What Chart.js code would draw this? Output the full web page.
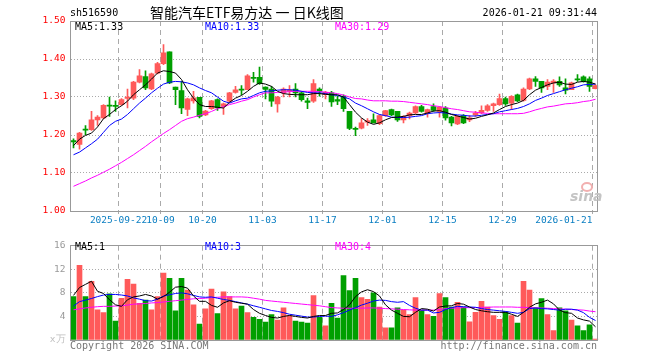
<!DOCTYPE html>
<html>
<head>
<meta charset="utf-8">
<script src="https://cdn.jsdelivr.net/npm/chart.js@4.4.1/dist/chart.umd.min.js"></script>
<style>
  body { margin: 0; background: #fff; }
  #wrap { position: relative; width: 660px; height: 360px; font-family: "DejaVu Sans Mono", monospace; font-size: 10px; }
  #wrap canvas { position: absolute; left: 0; }
  .t { position: absolute; white-space: pre; line-height: 12px; }
</style>
</head>
<body>
<div id="wrap">
  <canvas id="kline" width="660" height="235" style="top:0"></canvas>
  <canvas id="vol" width="660" height="125" style="top:235px"></canvas>

  <div class="t" style="left:70px;top:7px;color:#000">sh516590</div>
  <div class="t" style="left:150px;top:4px;font-family:'Noto Sans CJK SC',sans-serif;font-size:14px;line-height:16px;color:#000">智能汽车ETF易方达 一 日K线图</div>
  <div class="t" style="right:63px;top:7px;color:#000">2026-01-21 09:31:44</div>

  <div class="t" style="left:75px;top:21px;color:#000">MA5:1.33</div>
  <div class="t" style="left:205px;top:21px;color:#0000ff">MA10:1.33</div>
  <div class="t" style="left:335px;top:21px;color:#ff00ff">MA30:1.29</div>

  <div class="t" style="left:75px;top:241px;color:#000">MA5:1</div>
  <div class="t" style="left:205px;top:241px;color:#0000ff">MA10:3</div>
  <div class="t" style="left:335px;top:241px;color:#ff00ff">MA30:4</div>

  <div class="t" style="left:70px;top:340px;color:#777">Copyright 2026 SINA.COM</div>
  <div class="t" style="right:63px;top:340px;color:#777">http://finance.sina.com.cn</div>

  <div style="position:absolute;left:581px;top:182px;width:8px;height:6px;border:2px solid #f2b0b0;border-radius:50%"></div>
  <div class="t" style="left:570px;top:189px;font-family:'DejaVu Sans',sans-serif;font-weight:bold;font-style:italic;font-size:14px;line-height:14px;color:#c4c4c4">sina</div>
</div>

<script>
// ---- data ----
const dates = [
  '09-10','09-11','09-12','09-15','09-16','09-17','09-18','09-19','09-22','09-23','09-24','09-25','09-26','09-29','09-30',
  '10-09','10-10','10-13','10-14','10-15','10-16','10-17','10-20','10-21','10-22','10-23','10-24','10-27','10-28','10-29','10-30','10-31',
  '11-03','11-04','11-05','11-06','11-07','11-10','11-11','11-12','11-13','11-14','11-17','11-18','11-19','11-20','11-21','11-24','11-25','11-26','11-27','11-28',
  '12-01','12-02','12-03','12-04','12-05','12-08','12-09','12-10','12-11','12-12','12-15','12-16','12-17','12-18','12-19','12-22','12-23','12-24','12-25','12-26','12-29','12-30','12-31',
  '01-05','01-06','01-07','01-08','01-09','01-12','01-13','01-14','01-15','01-16','01-19','01-20','01-21'
];

// tick labels shown under the price panel
const tickIndex = [8, 15, 22, 32, 42, 52, 62, 72, 87];
const tickText  = ['2025-09-22', '10-09', '10-20', '11-03', '11-17', '12-01', '12-15', '12-29', '2026-01-21          '];

const opens = [
  1.185,1.175,1.215,1.214,1.240,1.245,1.279,1.278,1.280,1.296,
  1.297,1.339,1.354,1.321,1.363,1.388,1.419,1.326,1.317,1.267,
  1.290,1.299,1.253,1.269,1.293,1.275,1.289,1.312,1.320,1.319,
  1.351,1.352,1.326,1.321,1.282,1.311,1.315,1.321,1.311,1.290,
  1.289,1.321,1.306,1.311,1.293,1.302,1.262,1.217,1.218,1.234,
  1.240,1.230,1.251,1.267,1.262,1.240,1.251,1.258,1.275,1.258,
  1.275,1.262,1.271,1.247,1.229,1.251,1.240,1.253,1.258,1.265,
  1.277,1.280,1.296,1.284,1.306,1.291,1.321,1.348,1.341,1.328,
  1.337,1.341,1.324,1.319,1.348,1.353,1.348,1.322
];
const highs = [
  1.190,1.207,1.225,1.262,1.251,1.280,1.300,1.290,1.296,1.321,
  1.341,1.372,1.369,1.363,1.391,1.438,1.419,1.326,1.341,1.297,
  1.315,1.299,1.265,1.291,1.295,1.284,1.312,1.328,1.330,1.359,
  1.365,1.379,1.327,1.328,1.302,1.324,1.330,1.335,1.315,1.297,
  1.346,1.324,1.315,1.315,1.302,1.306,1.262,1.221,1.243,1.243,
  1.256,1.254,1.265,1.268,1.262,1.251,1.260,1.277,1.278,1.268,
  1.282,1.275,1.275,1.249,1.251,1.254,1.251,1.262,1.277,1.280,
  1.284,1.308,1.300,1.304,1.308,1.324,1.350,1.354,1.341,1.346,
  1.346,1.353,1.348,1.339,1.359,1.356,1.353,1.332
];
const lows = [
  1.166,1.163,1.201,1.212,1.225,1.243,1.249,1.262,1.278,1.271,
  1.293,1.337,1.319,1.319,1.361,1.385,1.335,1.280,1.256,1.251,
  1.284,1.245,1.251,1.267,1.265,1.254,1.287,1.310,1.306,1.319,
  1.339,1.333,1.295,1.275,1.260,1.300,1.300,1.300,1.289,1.269,
  1.286,1.302,1.295,1.275,1.280,1.262,1.214,1.198,1.216,1.225,
  1.232,1.227,1.249,1.251,1.236,1.232,1.242,1.256,1.260,1.247,
  1.262,1.247,1.239,1.224,1.227,1.230,1.235,1.249,1.256,1.262,
  1.262,1.278,1.278,1.267,1.288,1.289,1.319,1.328,1.312,1.319,
  1.312,1.328,1.308,1.319,1.341,1.339,1.315,1.321
];
const closes = [
  1.182,1.205,1.213,1.240,1.247,1.278,1.276,1.275,1.293,1.300,
  1.339,1.356,1.324,1.361,1.388,1.416,1.337,1.319,1.271,1.295,
  1.298,1.249,1.263,1.290,1.271,1.282,1.311,1.319,1.318,1.356,
  1.349,1.335,1.320,1.289,1.300,1.321,1.319,1.311,1.293,1.286,
  1.335,1.315,1.312,1.287,1.289,1.269,1.217,1.215,1.232,1.238,
  1.232,1.251,1.264,1.253,1.240,1.249,1.258,1.275,1.262,1.267,
  1.265,1.273,1.245,1.232,1.249,1.232,1.245,1.258,1.265,1.277,
  1.282,1.296,1.282,1.302,1.290,1.321,1.348,1.341,1.324,1.339,
  1.342,1.332,1.318,1.337,1.345,1.341,1.328,1.330
];

const ma5 = [
  1.172,1.189,1.199,1.205,1.221,1.243,1.254,1.267,1.277,1.289,1.306,1.319,1.332,1.347,1.363,1.369,
  1.367,1.363,1.346,1.319,1.297,1.280,1.275,1.275,1.273,1.271,1.286,1.297,1.304,1.315,1.328,1.337,
  1.334,1.328,1.315,1.309,1.307,1.306,1.306,1.306,1.309,1.309,1.307,1.306,1.306,1.300,1.280,1.260,
  1.245,1.234,1.228,1.232,1.240,1.246,1.247,1.249,1.253,1.254,1.254,1.258,1.263,1.264,1.260,
  1.254,1.250,1.246,1.242,1.244,1.249,1.253,1.258,1.267,1.275,1.280,1.284,1.291,1.306,1.318,1.325,
  1.332,1.337,1.339,1.334,1.333,1.339,1.341,1.339,1.334
];
const ma10 = [
  1.148,1.155,1.166,1.177,1.189,1.207,1.225,1.236,1.242,1.254,1.269,1.284,1.297,1.311,1.323,1.334,
  1.339,1.341,1.340,1.337,1.332,1.324,1.317,1.311,1.300,1.289,1.284,1.290,1.295,1.297,1.304,1.311,
  1.315,1.316,1.318,1.319,1.319,1.318,1.315,1.312,1.311,1.311,1.309,1.306,1.304,1.300,1.295,1.284,
  1.277,1.269,1.261,1.254,1.251,1.247,1.246,1.246,1.247,1.249,1.251,1.256,1.258,1.259,1.258,
  1.255,1.253,1.252,1.250,1.250,1.252,1.254,1.256,1.261,1.264,1.267,1.270,1.275,1.282,1.291,1.297,
  1.304,1.309,1.314,1.319,1.323,1.327,1.332,1.333,1.334
];
const ma30 = [
  1.065,1.072,1.079,1.087,1.094,1.102,1.110,1.119,1.128,1.138,1.148,1.159,1.170,1.182,1.193,1.204,
  1.214,1.225,1.236,1.243,1.247,1.252,1.256,1.262,1.269,1.275,1.280,1.284,1.289,1.293,1.300,1.306,
  1.311,1.311,1.312,1.313,1.314,1.315,1.315,1.315,1.315,1.314,1.313,1.311,1.309,1.305,1.300,1.296,
  1.295,1.292,1.290,1.290,1.290,1.289,1.289,1.288,1.286,1.284,1.282,1.280,1.277,1.275,1.272,
  1.269,1.267,1.264,1.261,1.260,1.258,1.257,1.256,1.256,1.256,1.256,1.256,1.257,1.261,1.266,1.270,
  1.274,1.276,1.279,1.282,1.283,1.285,1.288,1.290,1.294
];

// volume, 万
const volumes = [
  7.36,12.69,7.36,9.97,5.12,4.64,7.84,3.2,7.09,10.29,
  9.49,6.24,6.77,5.12,7.36,11.36,10.45,4.96,10.45,8.48,
  5.97,2.72,5.28,8.64,4.48,8.16,7.36,5.28,5.76,4.64,
  3.84,3.52,3.04,4.32,3.36,5.44,4.16,3.2,3.04,2.88,
  7.52,3.84,2.4,6.24,3.73,10.93,8.37,10.45,7.2,6.88,
  8.0,5.6,2.08,2.08,5.44,5.07,4.32,7.2,5.07,4.32,
  4.0,7.89,7.2,5.6,6.4,5.6,3.09,4.69,6.56,5.6,
  4.16,3.52,4.8,4.16,2.88,9.97,8.48,5.44,7.04,4.32,
  1.6,5.44,4.96,3.36,2.4,1.6,2.56,0.16
];
const volMa5 = [
  7.57,8.9,9.44,9.97,8.27,7.89,6.83,5.97,5.71,6.83,7.31,7.47,7.73,7.47,6.93,7.36,8.11,8.96,9.07,8.8,
  7.47,6.56,6.56,5.87,5.55,6.29,6.67,6.4,6.24,6.08,5.17,4.53,4.16,3.84,3.73,4.0,4.16,4.0,3.84,3.73,
  4.0,4.16,4.16,4.53,4.59,5.17,5.97,7.36,8.16,8.53,8.21,7.47,5.97,5.07,4.53,4.0,3.95,4.69,5.33,5.23,
  4.91,5.6,5.76,5.81,6.19,6.08,5.6,5.17,4.96,4.8,4.69,4.69,4.69,4.37,4.0,4.69,5.55,6.13,6.4,6.77,
  6.13,5.07,4.64,4.53,3.73,3.41,3.2,2.24
];
const volMa10 = [
  5.76,6.51,6.77,7.04,7.36,7.63,7.73,7.73,7.63,7.47,7.15,6.93,6.67,6.61,6.93,7.47,7.68,7.89,8.0,7.84,
  7.57,7.31,7.25,7.31,7.09,6.88,6.72,6.51,6.29,6.08,5.81,5.55,5.28,5.01,4.85,4.64,4.37,4.21,4.05,3.89,
  3.89,4.0,4.05,4.0,4.27,4.64,5.07,5.49,5.92,6.24,6.61,6.77,6.72,6.51,6.4,6.51,5.87,5.39,5.07,5.07,
  4.59,4.69,5.17,5.49,5.71,5.65,5.6,5.55,5.33,5.17,5.07,4.96,4.85,4.69,4.53,4.69,5.33,5.44,5.33,5.28,
  5.17,5.07,5.23,5.23,5.07,4.64,3.84,3.31
];
const volMa30 = [
  5.12,5.28,5.44,5.55,5.65,5.71,5.71,5.76,5.81,5.92,6.08,6.13,6.19,6.29,6.35,6.45,6.56,6.67,6.77,6.88,
  6.99,7.04,7.09,7.2,7.25,7.31,7.31,7.31,7.31,7.25,7.09,6.93,6.72,6.61,6.51,6.4,6.3,6.2,6.1,6.0,
  5.9,5.8,5.65,5.5,5.44,5.39,5.39,5.39,5.39,5.44,5.44,5.39,5.33,5.28,5.23,5.17,5.12,5.07,5.07,5.07,
  5.07,5.17,5.33,5.39,5.44,5.49,5.49,5.49,5.55,5.55,5.6,5.6,5.6,5.6,5.55,5.55,5.49,5.44,5.44,5.39,
  5.33,5.28,5.23,5.17,5.12,5.07,4.91,4.8
];

// ---- style ----
const UP = '#ff5a5a';
const DOWN = '#009f00';
const GRID = '#aaa';
const MONO = 'DejaVu Sans Mono';

const barColor = closes.map((c, i) => c >= opens[i] ? UP : DOWN);
const isDateTick = i => tickIndex.indexOf(i) >= 0;

Chart.defaults.font.family = MONO;
Chart.defaults.animation = false;

// grey box round the plot area
const frame = {
  id: 'frame',
  afterDraw(chart) {
    const { ctx, chartArea: a } = chart;
    const l = Math.floor(a.left) + 0.5, t = Math.floor(a.top) + 0.5;
    const r = Math.floor(a.right) - 0.5, b = Math.floor(a.bottom) + 0.5;
    ctx.save();
    ctx.strokeStyle = '#999';
    ctx.lineWidth = 1;
    ctx.strokeRect(l, t, r - l, b - t);
    ctx.restore();
  }
};

function xScale(showLabels, height) {
  return {
    type: 'category',
    offset: true,
    grid: {
      offset: true,
      color: c => isDateTick(c.index) ? GRID : 'rgba(0,0,0,0)',
      drawTicks: showLabels,
      tickLength: 3
    },
    border: { display: false, dash: [5, 4] },
    ticks: {
      display: showLabels,
      autoSkip: false,
      maxRotation: 0,
      minRotation: 0,
      padding: 1,
      labelOffset: -3,
      color: '#0a7ec2',
      font: { family: MONO, size: 9.5 },
      callback: (v, i) => {
        const k = tickIndex.indexOf(i);
        return k >= 0 ? tickText[k] : '';
      }
    },
    afterFit(scale) { scale.height = height; }
  };
}

const line = (data, color) => ({
  type: 'line', data, borderColor: color, borderWidth: 1,
  pointRadius: 0, tension: 0, order: 0
});

// ---- price panel ----
new Chart(document.getElementById('kline'), {
  type: 'bar',
  data: {
    labels: dates,
    datasets: [
      line(ma5, '#000'),
      line(ma10, '#0000ff'),
      line(ma30, '#ff00ff'),
      {
        data: opens.map((o, i) => [Math.min(o, closes[i]), Math.max(o, closes[i])]),
        backgroundColor: barColor, barThickness: 5, minBarLength: 1,
        grouped: false, order: 1
      },
      {
        data: lows.map((l, i) => [l, highs[i]]),
        backgroundColor: barColor, barThickness: 1,
        grouped: false, order: 2
      }
    ]
  },
  options: {
    responsive: false,
    devicePixelRatio: 1,
    layout: { padding: { top: 21, left: 0.5, right: 61.5, bottom: 0 } },
    plugins: { legend: { display: false }, tooltip: { enabled: false } },
    scales: {
      x: xScale(true, 24),
      y: {
        min: 1.0, max: 1.5,
        ticks: {
          stepSize: 0.1, padding: 5, color: '#ff0000',
          font: { family: MONO, size: 9.5 },
          callback: v => v.toFixed(2)
        },
        grid: {
          drawTicks: false,
          color: c => {
            const k = Math.round(c.tick.value * 10);
            return k > 10 && k < 15 ? GRID : 'rgba(0,0,0,0)';
          }
        },
        border: { display: false, dash: [1, 2] },
        afterFit(scale) { scale.width = 70; }
      }
    }
  },
  plugins: [frame]
});

// ---- volume panel ----
new Chart(document.getElementById('vol'), {
  type: 'bar',
  data: {
    labels: dates,
    datasets: [
      line(volMa5, '#000'),
      line(volMa10, '#0000ff'),
      line(volMa30, '#ff00ff'),
      { data: volumes, backgroundColor: barColor, barThickness: 5, order: 1 }
    ]
  },
  options: {
    responsive: false,
    devicePixelRatio: 1,
    layout: { padding: { top: 5, left: 0.5, right: 61.5, bottom: 0 } },
    plugins: { legend: { display: false }, tooltip: { enabled: false } },
    scales: {
      x: xScale(false, 20),
      y: {
        min: 0, max: 16,
        ticks: {
          stepSize: 4, padding: 5,
          color: c => c.tick && c.tick.value === 0 ? '#c0c0c0' : '#999',
          font: { family: MONO, size: 9.5 },
          callback: v => v === 0 ? 'x万' : v
        },
        grid: {
          drawTicks: false,
          color: c => (c.tick.value > 0 && c.tick.value < 16) ? GRID : 'rgba(0,0,0,0)'
        },
        border: { display: false, dash: [1, 2] },
        afterFit(scale) { scale.width = 70; }
      }
    }
  },
  plugins: [frame]
});
</script>
</body>
</html>
